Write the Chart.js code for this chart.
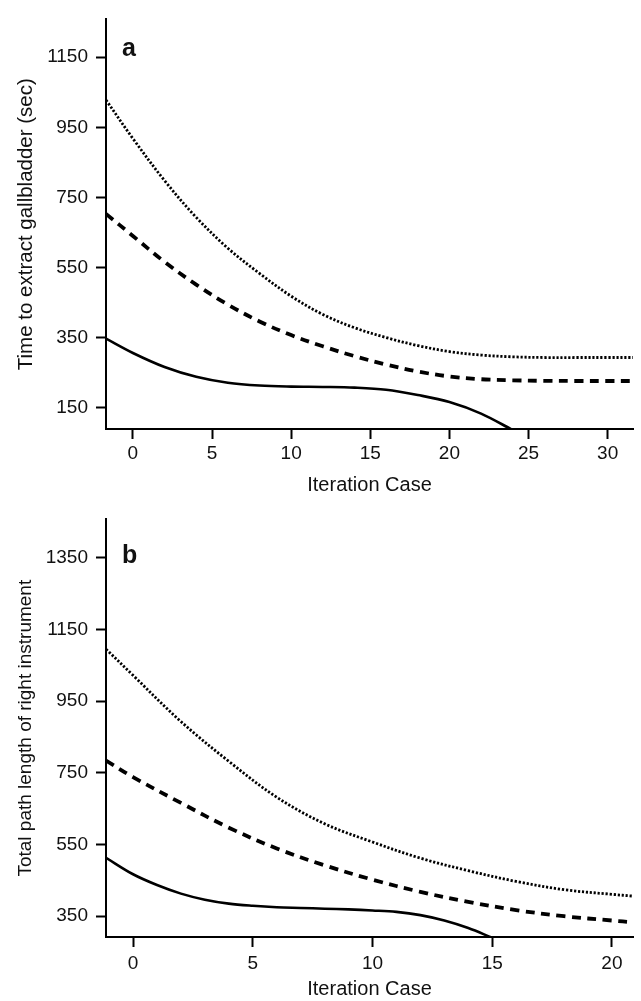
<!DOCTYPE html>
<html lang="en">
<head>
  <meta charset="UTF-8" />
  <title>Learning curves</title>
  <script src="https://cdn.jsdelivr.net/npm/chart.js"></script>
  <style>
    body {
      margin: 0;
      background: #fff;
      width: 641px;
      height: 1001px;
      overflow: hidden;
      position: relative;
    }
    .panel {
      position: absolute;
      left: 0;
    }
    #panelA { top: 0; }
    #panelB { top: 500px; }
  </style>
</head>
<body>
  <div class="panel" id="panelA"><canvas id="chartA" width="641" height="500"></canvas></div>
  <div class="panel" id="panelB"><canvas id="chartB" width="641" height="501"></canvas></div>

  <script>
    // panel a: time to extract gallbladder
    const casesA = [-1.7, 0, 2, 4, 6, 8, 10, 12, 14, 16, 18, 20, 22, 24, 26, 28, 30, 31.6];
    const dottedA = [1028, 918, 798, 693, 605, 533, 468, 416, 378, 350, 327, 310, 300, 295, 293, 293, 293, 293];
    const dashedA = [703, 640, 566, 501, 444, 396, 357, 325, 297, 273, 253, 239, 231, 228, 226.5, 226, 226, 226];
    const solidCasesA = [-1.7, 0, 2, 4, 6, 8, 10, 12, 14, 16, 18, 20, 22, 24];
    const solidA = [347, 306, 266, 238, 221, 213, 210, 209, 207, 201, 186, 166, 133, 86];
    const xTicksA = [0, 5, 10, 15, 20, 25, 30];
    const yTicksA = [150, 350, 550, 750, 950, 1150];

    // panel b: total path length of right instrument
    const casesB = [-1.13, 0, 2, 4, 6, 8, 10, 12, 14, 16, 18, 20, 20.9];
    const dottedB = [1095, 1022, 893, 782, 682, 608, 557, 512, 477, 447, 424, 411, 406];
    const dashedB = [784, 738, 666, 597, 539, 492, 452, 418, 390, 367, 350, 338, 333];
    const solidCasesB = [-1.13, 0, 1, 2, 3, 4, 5, 6, 7, 8, 9, 10, 11, 12, 13, 14, 15];
    const solidB = [513, 467, 437, 413, 396, 385, 379, 375, 373, 371, 369, 366, 362, 353, 338, 317, 290];
    const xTicksB = [0, 5, 10, 15, 20];
    const yTicksB = [350, 550, 750, 950, 1150, 1350];

    const FONT = "'Liberation Sans', Arial, Helvetica, sans-serif";
    const TEXT = '#111';

    function pts(xs, ys) {
      return xs.map((x, i) => ({ x: x, y: ys[i] }));
    }

    const panelLabel = {
      id: 'panelLabel',
      afterDraw(chart, args, opts) {
        const ctx = chart.ctx;
        const area = chart.chartArea;
        ctx.save();
        ctx.font = 'bold 25px ' + FONT;
        ctx.fillStyle = TEXT;
        ctx.textAlign = 'left';
        ctx.textBaseline = 'alphabetic';
        ctx.fillText(opts.text, area.left + 16, area.top + opts.dy);
        ctx.restore();
      }
    };

    function makeChart(id, cfg) {
      return new Chart(document.getElementById(id), {
        type: 'scatter',
        data: {
          datasets: [
            { data: pts(cfg.cases, cfg.dotted), borderColor: '#000', borderWidth: 2.8, borderDash: [2.2, 1.8], showLine: true, pointRadius: 0, tension: 0.35 },
            { data: pts(cfg.cases, cfg.dashed), borderColor: '#000', borderWidth: 3.8, borderDash: [9, 6.5], showLine: true, pointRadius: 0, tension: 0.35 },
            { data: pts(cfg.solidCases, cfg.solid), borderColor: '#000', borderWidth: 2.6, showLine: true, pointRadius: 0, tension: 0.35 }
          ]
        },
        options: {
          responsive: false,
          animation: false,
          events: [],
          layout: { padding: { top: cfg.padTop, right: 8, left: 0, bottom: 0 } },
          plugins: {
            legend: { display: false },
            tooltip: { enabled: false },
            panelLabel: { text: cfg.label, dy: cfg.labelDy }
          },
          scales: {
            x: {
              type: 'linear',
              min: cfg.xMin,
              max: cfg.xMax,
              afterBuildTicks: s => { s.ticks = cfg.xTicks.map(v => ({ value: v })); },
              afterFit: s => { s.height = cfg.xHeight; },
              border: { display: true, color: '#000', width: 2 },
              grid: { drawOnChartArea: false, drawTicks: true, tickLength: 10, tickWidth: 2, tickColor: '#000', color: '#000' },
              ticks: { color: TEXT, padding: cfg.xTickPad, maxRotation: 0, callback: v => String(v), font: { family: FONT, size: 19 } },
              title: {
                display: true,
                text: 'Iteration Case',
                color: TEXT,
                padding: { top: 0, bottom: cfg.xTitlePad },
                font: { family: FONT, size: 20, lineHeight: 1.2 }
              }
            },
            y: {
              type: 'linear',
              min: cfg.yMin,
              max: cfg.yMax,
              afterBuildTicks: s => { s.ticks = cfg.yTicks.map(v => ({ value: v })); },
              afterFit: s => { s.width = 106; },
              border: { display: true, color: '#000', width: 2 },
              grid: { drawOnChartArea: false, drawTicks: true, tickLength: 10, tickWidth: 2, tickColor: '#000', color: '#000' },
              ticks: { color: TEXT, padding: 8, callback: v => String(v), font: { family: FONT, size: 19 } },
              title: {
                display: true,
                text: cfg.yTitle,
                color: TEXT,
                padding: { top: 14, bottom: 0 },
                font: { family: FONT, size: cfg.yTitleSize, lineHeight: 1.2 }
              }
            }
          }
        },
        plugins: [panelLabel]
      });
    }

    makeChart('chartA', {
      cases: casesA, dotted: dottedA, dashed: dashedA,
      solidCases: solidCasesA, solid: solidA,
      xTicks: xTicksA, yTicks: yTicksA,
      xMin: -1.7, xMax: 31.6, yMin: 89, yMax: 1258,
      padTop: 9, xHeight: 71, xTickPad: 3, xTitlePad: 3,
      yTitle: 'Time to extract gallbladder (sec)', yTitleSize: 20.5,
      label: 'a', labelDy: 37
    });

    makeChart('chartB', {
      cases: casesB, dotted: dottedB, dashed: dashedB,
      solidCases: solidCasesB, solid: solidB,
      xTicks: xTicksB, yTicks: yTicksB,
      xMin: -1.13, xMax: 20.88, yMin: 292, yMax: 1457,
      padTop: 13, xHeight: 64, xTickPad: 5, xTitlePad: 0,
      yTitle: 'Total path length of right instrument', yTitleSize: 19,
      label: 'b', labelDy: 44
    });
  </script>
</body>
</html>
